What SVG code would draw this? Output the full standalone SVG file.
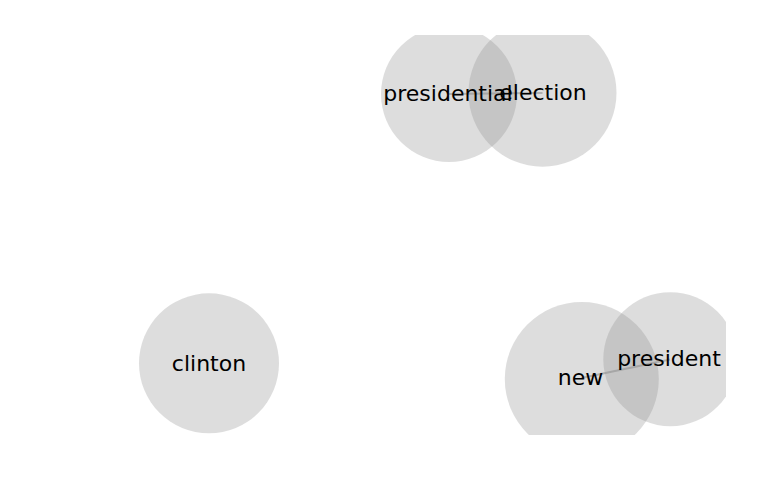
<svg xmlns="http://www.w3.org/2000/svg" width="769" height="500" viewBox="0 0 769 500">
<style>
.node circle{fill:#8e8e8e;fill-opacity:0.3}
.node text{font-family:"DejaVu Sans",sans-serif;font-size:22px;fill:#000;text-anchor:middle}
.edge{stroke:#808080;stroke-opacity:0.5;stroke-width:2;fill:none}
</style>
<defs>
<clipPath id="ax"><rect x="0" y="35" width="726" height="400"/></clipPath>
</defs>
<rect width="769" height="500" fill="#fff"/>
<g clip-path="url(#ax)">
<g id="connectors">
<line class="edge" x1="449" y1="94" x2="542.5" y2="93"/>
<line class="edge" x1="581.5" y1="378" x2="670" y2="359.5"/>
</g>
<g id="node-presidential" class="node"><circle cx="449" cy="94" r="68"/></g>
<g id="node-election" class="node"><circle cx="542.5" cy="92.7" r="74"/></g>
<g id="node-clinton" class="node"><circle cx="209" cy="363.3" r="70"/></g>
<g id="node-new" class="node"><circle cx="581.8" cy="379" r="77"/></g>
<g id="node-president" class="node"><circle cx="670.3" cy="359.2" r="67"/></g>
<g class="node"><text x="448" y="101">presidential</text></g>
<g class="node"><text x="543" y="100">election</text></g>
<g class="node"><text x="209" y="371">clinton</text></g>
<g class="node"><text x="580.5" y="385">new</text></g>
<g class="node"><text x="669" y="366">president</text></g>
</g>
</svg>
